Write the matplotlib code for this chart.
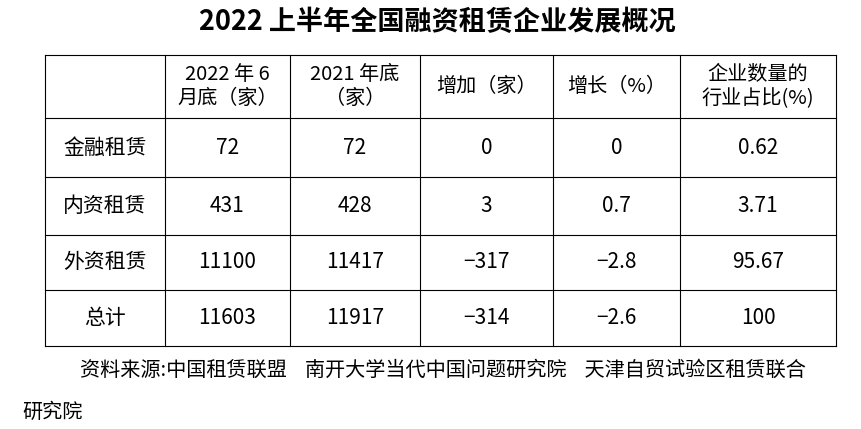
import matplotlib
matplotlib.use('Agg')
import matplotlib.pyplot as plt

plt.rcParams['font.family'] = ['Noto Sans CJK SC', 'DejaVu Sans']

title = '2022 上半年全国融资租赁企业发展概况'
headers = ['2022 年 6\n月底（家）', '2021 年底\n（家）', '增加（家）', '增长（%）', '企业数量的\n行业占比(%)']
categories = ['金融租赁', '内资租赁', '外资租赁', '总计']
end_2022_06 = ['72', '431', '11100', '11603']
end_2021 = ['72', '428', '11417', '11917']
increase = ['0', '3', '−317', '−314']
growth = ['0', '0.7', '−2.8', '−2.6']
share = ['0.62', '3.71', '95.67', '100']
source = '资料来源:中国租赁联盟    南开大学当代中国问题研究院    天津自贸试验区租赁联合'
source2 = '研究院'

col_x = [45, 165, 290, 420, 553, 680, 836]
row_y = [55, 118, 177, 235, 290, 346]

fig = plt.figure(figsize=(8.62, 4.29), dpi=100)
ax = fig.add_axes([0, 0, 1, 1])
ax.set_xlim(0, 862)
ax.set_ylim(429, 0)
ax.axis('off')

ax.text(437, 22, title, ha='center', va='center', fontsize=19.5, fontweight='bold')

for x in col_x:
    ax.plot([x, x], [row_y[0], row_y[-1]], color='black', lw=0.8)
for y in row_y:
    ax.plot([col_x[0], col_x[-1]], [y, y], color='black', lw=0.8)

def cx(i):
    return (col_x[i] + col_x[i + 1]) / 2

def cy(j):
    return (row_y[j] + row_y[j + 1]) / 2

for i, h in enumerate(headers):
    ax.text(cx(i + 1), cy(0), h, ha='center', va='center', fontsize=14.5, linespacing=1.15)

columns = [categories, end_2022_06, end_2021, increase, growth, share]
for i, col in enumerate(columns):
    for j, v in enumerate(col):
        ax.text(cx(i), cy(j + 1), v, ha='center', va='center', fontsize=15)

ax.text(80, 370, source, ha='left', va='center', fontsize=14.5)
ax.text(22, 412, source2, ha='left', va='center', fontsize=14.5)

fig.savefig('out.png', dpi=100)
